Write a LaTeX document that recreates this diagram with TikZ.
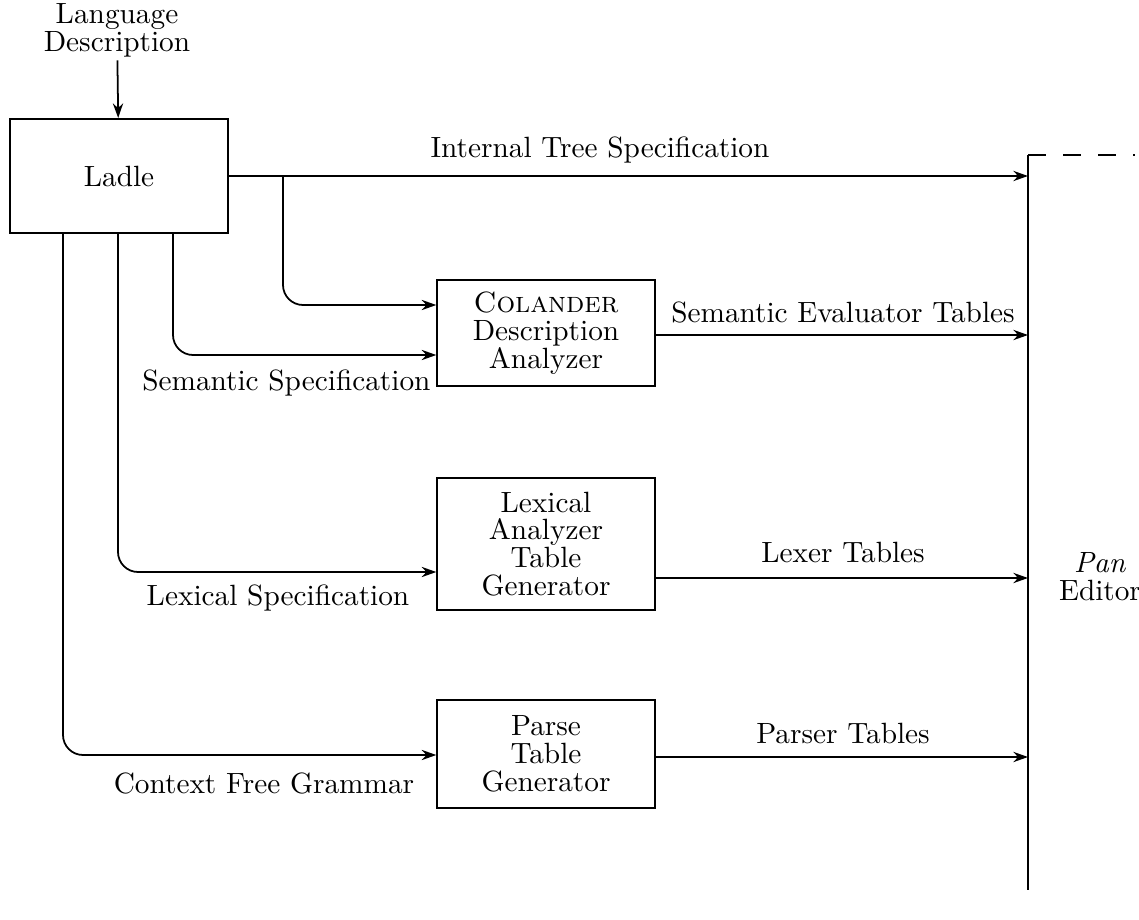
\documentclass[tikz,border=0pt]{standalone}
\usepackage{tikz}
\usetikzlibrary{arrows.meta}

\tikzset{
    box/.style={draw, line width=0.6pt, align=center, minimum width=2.61cm, inner sep=2pt, font=\fontsize{10pt}{9.5pt}\selectfont},
    lbl/.style={align=center, inner sep=1pt, font=\fontsize{10pt}{9.5pt}\selectfont},
    feed/.style={line width=0.6pt, -{Stealth[length=5pt, width=3.5pt]}, rounded corners=0.24cm},
}

\begin{document}
\begin{tikzpicture}[x=0.012cm, y=-0.012cm]
    \useasboundingbox (0, 0) rectangle (1139, 919);
    \node[lbl] (lang) at (117, 30) {Language\\Description};
    \node[box, minimum height=1.37cm] (ladle) at (119, 176) {Ladle};
    \node[box, minimum height=1.28cm] (colander) at (546, 333) {\textsc{Colander}\\Description\\Analyzer};
    \node[box, minimum height=1.58cm] (lexical) at (546, 544) {Lexical\\Analyzer\\Table\\Generator};
    \node[box, minimum height=1.30cm] (parse) at (546, 754) {Parse\\Table\\Generator};
    \coordinate (pantop) at (1028, 155);
    \coordinate (panbot) at (1028, 890);
    \draw[line width=0.6pt] (pantop) -- (panbot);
    \draw[line width=0.6pt, dash pattern=on 0.22cm off 0.2cm] (pantop) -- ++(107, 0);
    \node[lbl] (pan) at (1100, 577) {\textit{Pan}\\Editor};

    \draw[feed] (lang) -- (ladle);
    \draw[feed] (ladle.east) -- (ladle.east -| pantop);
    \node[lbl] (itree) at (600, 150) {Internal Tree Specification};
    \draw[feed] (ladle.east -| 283, 0) |- (colander.west |- 0, 305);
    \draw[feed] (ladle.south -| 173, 0) |- (colander.west |- 0, 355);
    \draw[feed] (ladle.south -| 118, 0) |- (lexical.west |- 0, 572);
    \draw[feed] (ladle.south -| 63, 0) |- (parse.west |- 0, 755);
    \node[lbl, anchor=east] (semspec) at (434, 383) {Semantic Specification};
    \node[lbl] (lexspec) at (278, 598) {Lexical Specification};
    \node[lbl] (cfg) at (264, 783) {Context Free Grammar};

    \draw[feed] (colander.east |- 0, 335) -- (pantop |- 0, 335);
    \draw[feed] (lexical.east |- 0, 578) -- (pantop |- 0, 578);
    \draw[feed] (parse.east |- 0, 757) -- (pantop |- 0, 757);
    \node[lbl] (semtab) at (843, 312) {Semantic Evaluator Tables};
    \node[lbl] (lextab) at (843, 552) {Lexer Tables};
    \node[lbl] (partab) at (843, 733) {Parser Tables};
\end{tikzpicture}
\end{document}
